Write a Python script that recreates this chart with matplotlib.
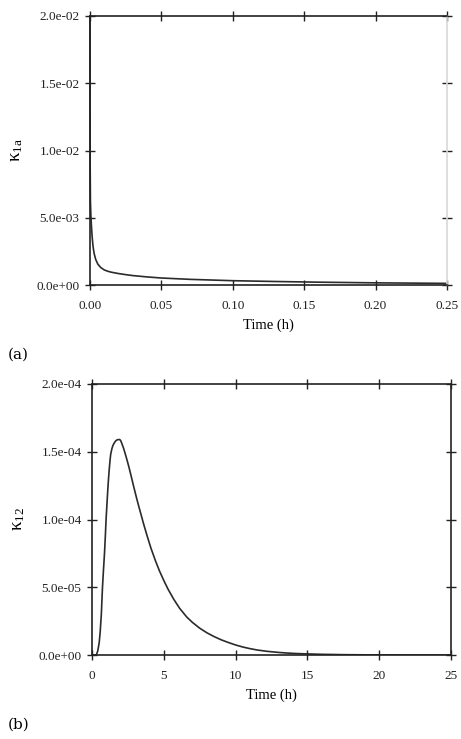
import matplotlib
matplotlib.use("Agg")
import matplotlib.pyplot as plt
from matplotlib.ticker import FormatStrFormatter


# -------------------------------------------------
# Дані
# -------------------------------------------------
# (a) kappa_1a, 0 ... 0.25 h
time_a = [0, 0.0001, 0.0003, 0.0006, 0.001, 0.0015, 0.002, 0.0025, 0.003,
          0.004, 0.0055, 0.0075, 0.01, 0.0125, 0.015, 0.02, 0.025, 0.03,
          0.04, 0.05, 0.06, 0.07, 0.085, 0.1, 0.115, 0.13, 0.16, 0.2, 0.25]
kappa_1a = [2.0e-2, 9.0e-3, 6.2e-3, 5.2e-3, 4.4e-3, 3.6e-3, 3.0e-3, 2.6e-3,
            2.3e-3, 1.9e-3, 1.55e-3, 1.3e-3, 1.12e-3, 1.02e-3, 0.95e-3,
            0.85e-3, 0.77e-3, 0.7e-3, 0.6e-3, 0.52e-3, 0.47e-3, 0.42e-3,
            0.37e-3, 0.32e-3, 0.29e-3, 0.26e-3, 0.21e-3, 0.16e-3, 0.12e-3]

# (b) kappa_12, 0 ... 25 h
time_b = [0, 0.3, 0.4, 0.5, 0.57, 0.65, 0.73, 0.8, 0.87, 0.93, 0.98, 1.05,
          1.1, 1.15, 1.2, 1.25, 1.3, 1.38, 1.45, 1.55, 1.65, 1.75, 1.85,
          1.93, 2.0, 2.1, 2.2, 2.3, 2.45, 2.6, 2.75, 2.91, 3.1, 3.25, 3.38,
          3.6, 3.85, 4.1, 4.42, 4.7, 5.0, 5.3, 5.7, 6.1, 6.6, 7.0, 7.5, 8.0,
          8.5, 9.0, 9.5, 10, 10.5, 11, 11.5, 12.2, 13, 13.5, 14.2, 15, 16,
          17.5, 19, 20, 22, 25]
kappa_12 = [0, 0, 0.3e-5, 0.9e-5, 1.7e-5, 3.0e-5, 5.0e-5, 6.3e-5, 7.5e-5,
            8.8e-5, 10.0e-5, 11.3e-5, 12.2e-5, 13.0e-5, 13.7e-5, 14.3e-5,
            14.8e-5, 15.2e-5, 15.45e-5, 15.65e-5, 15.8e-5, 15.88e-5, 15.9e-5,
            15.9e-5, 15.82e-5, 15.55e-5, 15.25e-5, 14.9e-5, 14.35e-5,
            13.75e-5, 13.1e-5, 12.4e-5, 11.6e-5, 11.0e-5, 10.5e-5, 9.65e-5,
            8.75e-5, 7.9e-5, 6.95e-5, 6.2e-5, 5.5e-5, 4.85e-5, 4.1e-5,
            3.45e-5, 2.8e-5, 2.4e-5, 1.98e-5, 1.64e-5, 1.36e-5, 1.12e-5,
            0.92e-5, 0.74e-5, 0.59e-5, 0.47e-5, 0.37e-5, 0.27e-5, 0.19e-5,
            0.15e-5, 0.11e-5, 0.08e-5, 0.05e-5, 0.025e-5, 0.012e-5,
            0.008e-5, 0.003e-5, 0]

xticks_a = [0, 0.05, 0.10, 0.15, 0.20, 0.25]
xticks_b = [0, 5, 10, 15, 20, 25]
yticks_a = [0, 5e-3, 1e-2, 1.5e-2, 2e-2]
yticks_b = [0, 5e-5, 1e-4, 1.5e-4, 2e-4]


# -------------------------------------------------
# Стиль
# -------------------------------------------------
plt.rcParams['font.family'] = ['Liberation Serif', 'DejaVu Serif']
plt.rcParams['mathtext.fontset'] = 'stix'

LINE_COLOR = '#2b2b2b'


def style_axes(ax, xlim, ylim, xticks, yticks, xfmt, ylabel):
    ax.set_xlim(xlim)
    ax.set_ylim(ylim)
    ax.set_xticks(xticks)
    ax.set_yticks(yticks)
    ax.xaxis.set_major_formatter(FormatStrFormatter(xfmt))
    ax.yaxis.set_major_formatter(FormatStrFormatter('%.1e'))
    ax.tick_params(direction='inout', length=7, width=1.0,
                   top=True, right=True, labelsize=9.5,
                   colors='#222222', pad=4)
    ax.tick_params(axis='x', pad=7)
    for side in ['left', 'bottom', 'top', 'right']:
        ax.spines[side].set_linewidth(1.2)
        ax.spines[side].set_color('#222222')
    ax.set_xlabel("Time (h)", fontsize=10.5, labelpad=5)
    ax.set_ylabel(ylabel, fontsize=13.5, labelpad=8)


fig = plt.figure(figsize=(4.61, 7.39), dpi=100)

# -------------------------------------------------
# (a)
# -------------------------------------------------
ax_a = fig.add_axes([90 / 461, 1 - 285 / 739, 357 / 461, 269 / 739])
ax_a.plot(time_a, kappa_1a, color=LINE_COLOR, lw=1.2, clip_on=False)
style_axes(ax_a, (0, 0.25), (0, 2e-2), xticks_a, yticks_a, '%.2f',
           r'$\mathregular{\kappa_{1a}}$')
ax_a.spines['right'].set_color('#d8d8d8')

# -------------------------------------------------
# (b)
# -------------------------------------------------
ax_b = fig.add_axes([92 / 461, 1 - 655 / 739, 359 / 461, 271 / 739])
ax_b.plot(time_b, kappa_12, color=LINE_COLOR, lw=1.2)
style_axes(ax_b, (0, 25), (0, 2e-4), xticks_b, yticks_b, '%d',
           r'$\mathregular{\kappa_{12}}$')

fig.text(8 / 461, 1 - 355 / 739, "(a)", fontsize=11,
         family='DejaVu Serif', va='center', ha='left')
fig.text(8 / 461, 1 - 725 / 739, "(b)", fontsize=11,
         family='DejaVu Serif', va='center', ha='left')

plt.savefig("out.png", dpi=100)
